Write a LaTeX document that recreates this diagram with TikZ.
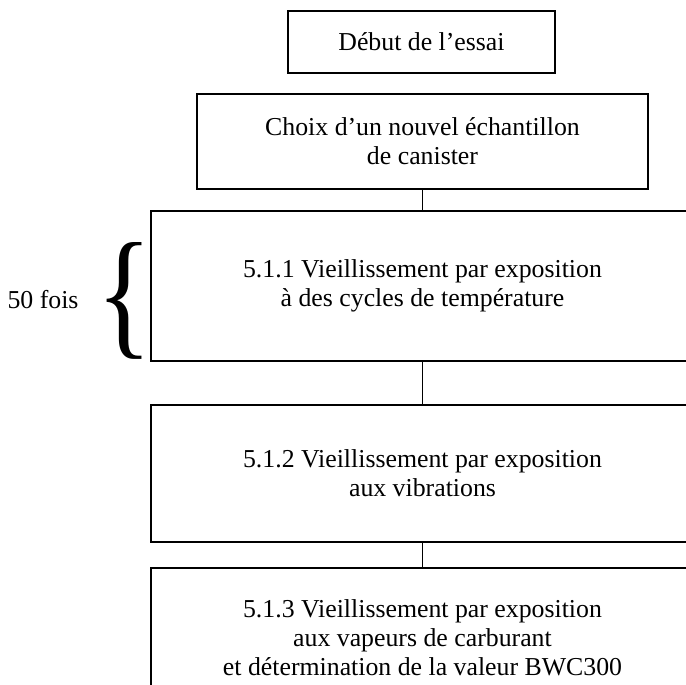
\documentclass[tikz,border=0pt]{standalone}
\usepackage{fontspec}
\setmainfont{Liberation Serif}
\usepackage{graphicx}
\tikzset{
    etape/.style={draw, line width=1.6pt, align=center, inner sep=0pt,
        font=\fontsize{25.8}{29}\selectfont},
    lien/.style={line width=.8pt}
}
\begin{document}
\begin{tikzpicture}[x=1pt, y=-1pt]
    \useasboundingbox (0,0) rectangle (686,685);
    \clip (0,0) rectangle (686,685);
    \node (debut) at (421.5,42)[etape, minimum width=267pt, minimum height=62pt]{Début de l’essai};
    \node (choix) at (422.5,141.5)[etape, minimum width=451pt, minimum height=95pt]{Choix d’un nouvel échantillon\\de canister};
    \node (temp) at (422.5,286)[etape, minimum width=543pt, minimum height=150pt]{5.1.1 Vieillissement par exposition\\à des cycles de température};
    \node (vib) at (422.5,473.5)[etape, minimum width=543pt, minimum height=137pt]{5.1.2 Vieillissement par exposition\\aux vibrations};
    \node (vap) at (422.5,638)[etape, minimum width=543pt, minimum height=140pt]{5.1.3 Vieillissement par exposition\\aux vapeurs de carburant\\et détermination de la valeur BWC300};
    \draw[lien] (choix)--(temp);
    \draw[lien] (temp)--(vib);
    \draw[lien] (vib)--(vap);
    \node (acc) at (125,300.5)[inner sep=0pt]{\resizebox{56pt}{98pt}{\{}};
    \node (fois) at (43,300)[font=\fontsize{25.8}{29}\selectfont]{50 fois};
\end{tikzpicture}
\end{document}
